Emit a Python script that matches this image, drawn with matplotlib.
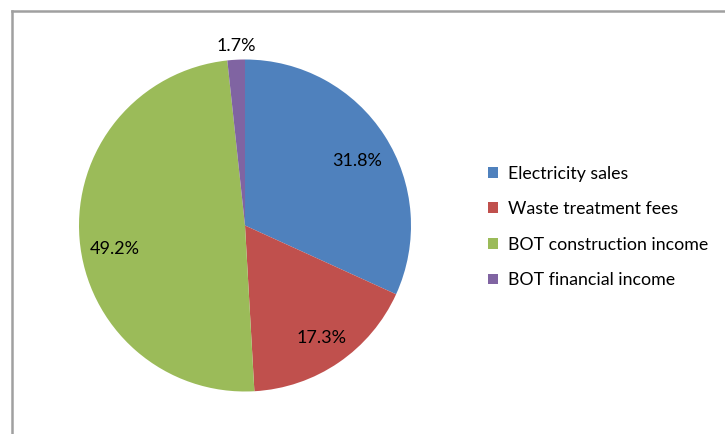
import matplotlib
matplotlib.use("Agg")
import matplotlib.pyplot as plt
from matplotlib.lines import Line2D
from matplotlib.patches import Patch
import numpy as np

categories = ["Electricity sales", "Waste treatment fees", "BOT construction income", "BOT financial income"]
values = [31.8, 17.3, 49.2, 1.7]
colors = ["#4F81BD", "#C0504D", "#9BBB59", "#8064A2"]

# label placement (radius fraction, angle offset from wedge middle in degrees)
label_r = [0.78, 0.82, 0.795, 1.085]
label_dang = [-2.7, 0.0, 5.4, -0.2]

plt.rcParams['font.family'] = ['Lato', 'DejaVu Sans']

W, H = 725, 434
fig = plt.figure(figsize=(W/100, H/100), dpi=100)
fig.patch.set_facecolor('white')

cx, cy, r = 245, 225.5, 166
ax = fig.add_axes([(cx - r)/W, (H - cy - r)/H, 2*r/W, 2*r/H])
wedges, texts, autotexts = ax.pie(values, colors=colors, startangle=90, counterclock=False,
                                  autopct='%1.1f%%', pctdistance=0.8,
                                  wedgeprops=dict(linewidth=0),
                                  textprops=dict(fontsize=13, color='black'))
ax.set_xlim(-1, 1)
ax.set_ylim(-1, 1)
ax.set_aspect('equal')

for w, t, lr, da in zip(wedges, autotexts, label_r, label_dang):
    ang = np.deg2rad((w.theta1 + w.theta2) / 2 + da)
    t.set_position((lr*np.cos(ang), lr*np.sin(ang)))

handles = [Patch(facecolor=c, edgecolor='none') for c in colors]
fig.legend(handles, categories, loc='upper left', bbox_to_anchor=(488/W, 1 - 165.5/H),
           frameon=False, fontsize=12.8, handlelength=0.55, handleheight=0.55,
           handletextpad=0.6, labelspacing=1.1, borderaxespad=0, borderpad=0)

# chart border (partially cropped in reference)
bx, by = 11.5/W, 1 - 10.5/H
fig.add_artist(Line2D([bx, bx], [0, by], color='#A0A0A0', linewidth=1.8, transform=fig.transFigure))
fig.add_artist(Line2D([bx, 1], [by, by], color='#A0A0A0', linewidth=1.8, transform=fig.transFigure))

fig.savefig("out.png", dpi=100)
